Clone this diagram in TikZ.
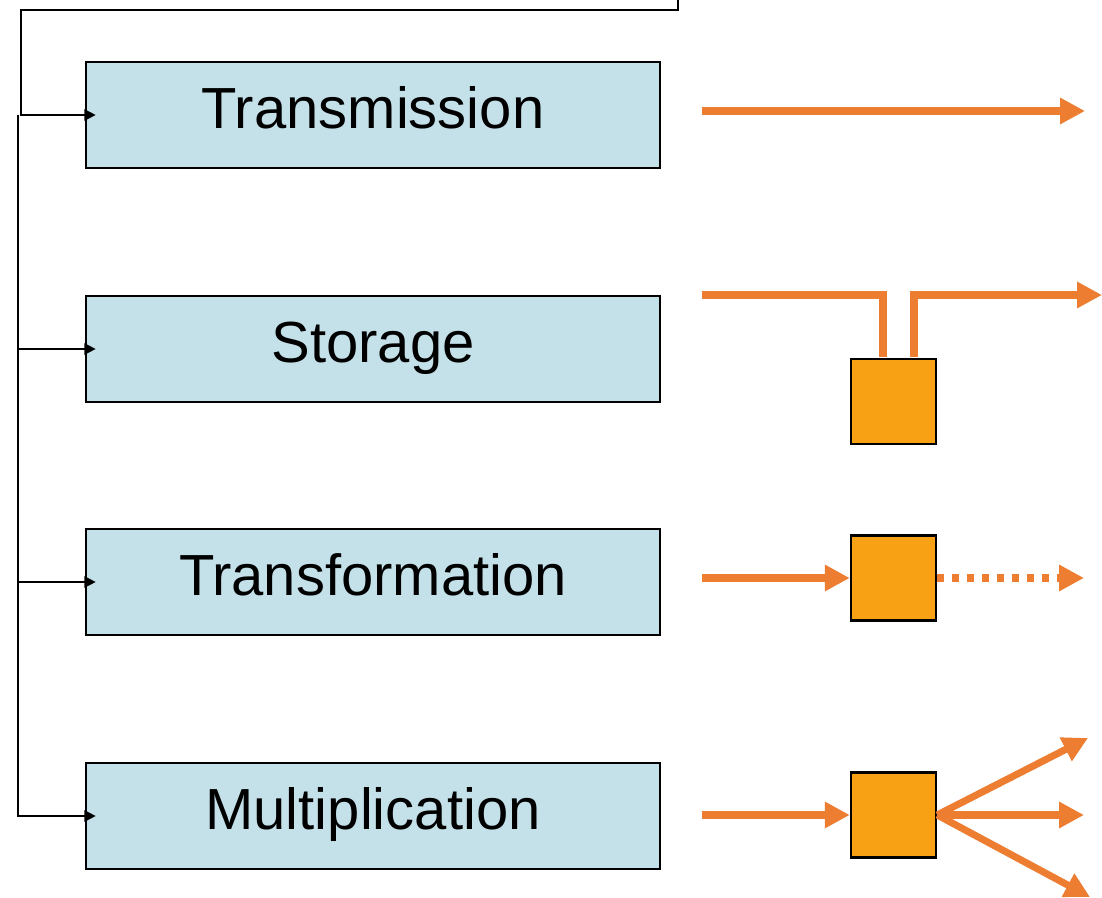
\documentclass[tikz,border=0pt]{standalone}
\usepackage{fontspec}
\setmainfont{Liberation Sans}
\usetikzlibrary{arrows.meta}
\definecolor{stageblue}{RGB}{196,224,233}
\definecolor{flow}{RGB}{237,125,49}
\definecolor{unitfill}{RGB}{249,161,20}

\begin{document}
\begin{tikzpicture}[x=0.02cm,y=-0.02cm,
	stage/.style={draw=black,line width=1.4pt,fill=stageblue,minimum width=11.48cm,minimum height=2.12cm,inner sep=0pt,text height=0.83cm,text depth=0.3cm,font=\fontsize{33}{36}\selectfont},
	unit/.style={draw=black,line width=1.4pt,fill=unitfill,minimum size=1.7cm,inner sep=0pt},
	feed/.style={line width=1.5pt,-{Triangle[length=0.23cm,width=0.22cm]}},
	pipe/.style={draw=flow,line width=4pt},
	flowline/.style={pipe,-{Triangle[length=0.5cm,width=0.5cm]}}]
				\useasboundingbox (0,0) rectangle (1102,898);
				
				\node[stage] (tx) at (373,115) {Transmission};
				\node[stage] (st) at (373,349) {Storage};
				\node[stage] (tf) at (373,582) {Transformation};
				\node[stage] (mu) at (373,816) {Multiplication};
				
				\coordinate (src) at (678,-2);
				\coordinate (bus) at (18,115);
				\draw[feed] (src) |- (21,10) |- ([xshift=0.22cm]tx.west);
				\foreach \n in {st,tf,mu}
					\draw[feed] (bus) |- ([xshift=0.22cm]\n.west);
				
				\coordinate (txin) at (702,111);
				\coordinate (txout) at (1085,111);
				\draw[flowline] (txin) -- (txout);
				
				\node[unit] (stu) at (893.5,401.5) {};
				\coordinate (stin) at (702,295);
				\coordinate (stout) at (1102,295);
				\draw[pipe,shorten >=0.7pt] (stin) -| ([xshift=-0.21cm]stu.north);
				\draw[flowline,shorten <=0.7pt] ([xshift=0.41cm]stu.north) |- (stout);
				
				\node[unit] (tfu) at (893.5,578) {};
				\coordinate (tfin) at (702,578);
				\coordinate (tfout) at (1084,578);
				\draw[flowline] (tfin) -- (tfu.west);
				\draw[flowline,dash pattern=on 4pt off 4.5pt] (tfu.east) -- (tfout);
				
				\node[unit] (muu) at (893.5,815) {};
				\coordinate (muin) at (702,815);
				\coordinate (mua) at (1088,738);
				\coordinate (mub) at (1084,815);
				\coordinate (muc) at (1090,897);
				\draw[flowline] (muin) -- (muu.west);
				\foreach \t in {mua,mub,muc}
					\draw[flowline] (muu.east) -- (\t);
\end{tikzpicture}
\end{document}
